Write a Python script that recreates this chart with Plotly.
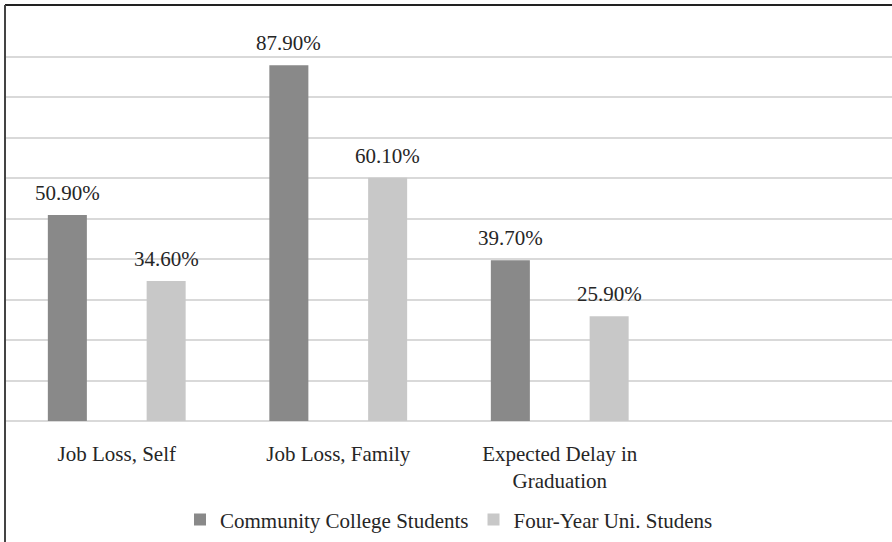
import plotly.graph_objects as go

categories = ["Job Loss, Self", "Job Loss, Family", "Expected Delay in<br>Graduation"]
community = [0.509, 0.879, 0.397]
four_year = [0.346, 0.601, 0.259]
series_names = ["Community College Students", "Four-Year Uni. Studens"]
colors = ["#898989", "#c8c8c8"]

FONT = "'Liberation Serif', 'Times New Roman', Times, serif"
TXT = "#262626"
BARGAP = 0.108
GROUPGAP = 0.605

fig = go.Figure()
for name, vals, col in zip(series_names, [community, four_year], colors):
    fig.add_trace(go.Bar(name=name, x=categories, y=vals, marker_color=col,
                         marker_line_width=0))

# data labels above bars
offset = (1 - BARGAP) / 4
for si, vals in enumerate([community, four_year]):
    sign = -1 if si == 0 else 1
    for ci, v in enumerate(vals):
        fig.add_annotation(x=ci + sign * offset, y=v, xref="x", yref="y",
                           text=f"{v*100:.2f}%", showarrow=False,
                           yanchor="bottom", yshift=8,
                           font=dict(family=FONT, size=21, color=TXT))

fig.update_layout(
    width=892, height=542,
    margin=dict(l=6, r=0, t=16, b=121),
    paper_bgcolor="white", plot_bgcolor="white",
    barmode="group", bargap=BARGAP, bargroupgap=GROUPGAP,
    font=dict(family=FONT, size=21, color=TXT),
    showlegend=True,
    legend=dict(orientation="h", x=0.5, xanchor="center", y=-0.244, yanchor="middle",
                font=dict(family=FONT, size=21, color=TXT), traceorder="normal"),
    xaxis=dict(type="category", range=[-0.5, 3.5], showgrid=False, showline=False,
               ticks="", ticklabelstandoff=18,
               tickfont=dict(family=FONT, size=21, color=TXT)),
    yaxis=dict(range=[0, 1.0005], dtick=0.1, showgrid=True, gridcolor="#d9d9d9",
               gridwidth=2, zeroline=True, zerolinecolor="#d9d9d9", zerolinewidth=2,
               showticklabels=False, ticks="", showline=False),
    shapes=[
        dict(type="line", xref="paper", yref="paper", x0=-1/886, x1=1.01,
             y0=1 + 11/405, y1=1 + 11/405, line=dict(color="#222222", width=2)),
        dict(type="line", xref="paper", yref="paper", x0=-1/886, x1=-1/886,
             y0=1 + 11/405, y1=-0.4, line=dict(color="#444444", width=2)),
    ],
)

fig.write_html("out.html", config={"displayModeBar": False},
               post_script="document.body.style.margin='0';document.body.style.overflow='hidden';")
